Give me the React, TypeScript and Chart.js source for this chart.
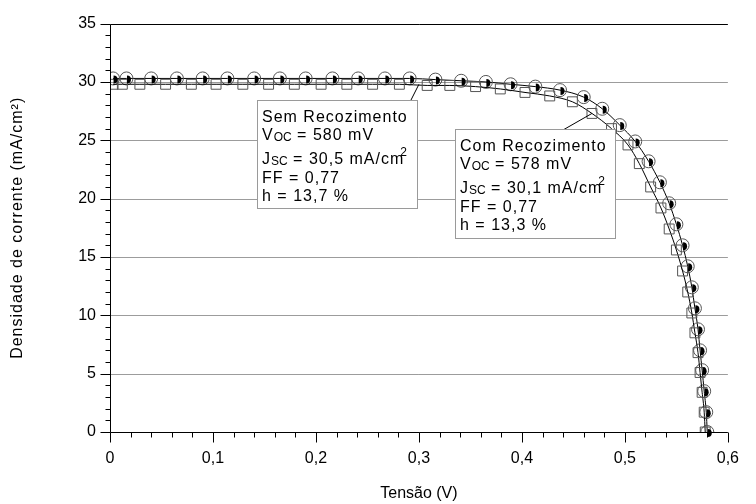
import React, { useEffect, useRef } from "react";
import { Chart, registerables } from "chart.js";

Chart.register(...registerables);

// ---- Data ----
const semV = [0.003, 0.016, 0.04, 0.065, 0.09, 0.114, 0.14, 0.165, 0.19, 0.216, 0.241, 0.267, 0.291, 0.316, 0.341, 0.365, 0.389, 0.413, 0.437, 0.46, 0.478, 0.495, 0.51, 0.523, 0.534, 0.543, 0.55, 0.556, 0.561, 0.565, 0.568, 0.571, 0.573, 0.575, 0.577, 0.579, 0.58];
const semJ = [30.3, 30.3, 30.3, 30.3, 30.3, 30.3, 30.3, 30.3, 30.3, 30.3, 30.3, 30.3, 30.3, 30.2, 30.1, 30.0, 29.8, 29.6, 29.3, 28.7, 27.7, 26.3, 24.9, 23.2, 21.4, 19.6, 17.8, 16.0, 14.2, 12.4, 10.6, 8.8, 7.0, 5.3, 3.5, 1.7, 0];

const comV = [0.003, 0.012, 0.029, 0.054, 0.079, 0.103, 0.129, 0.154, 0.179, 0.205, 0.23, 0.255, 0.281, 0.308, 0.33, 0.355, 0.379, 0.403, 0.427, 0.449, 0.468, 0.487, 0.503, 0.514, 0.525, 0.535, 0.543, 0.55, 0.556, 0.561, 0.565, 0.568, 0.571, 0.573, 0.575, 0.577, 0.578];
const comJ = [29.8, 29.8, 29.8, 29.8, 29.8, 29.8, 29.8, 29.8, 29.8, 29.8, 29.8, 29.8, 29.8, 29.7, 29.7, 29.6, 29.4, 29.1, 28.8, 28.3, 27.3, 26.0, 24.6, 23.0, 21.0, 19.2, 17.4, 15.6, 13.8, 12.0, 10.2, 8.5, 6.8, 5.1, 3.4, 1.7, 0];

const xTicks = [0, 0.1, 0.2, 0.3, 0.4, 0.5, 0.6];
const yTicks = [0, 5, 10, 15, 20, 25, 30, 35];

const xTitle = "Tensão (V)";
const yTitle = "Densidade de corrente (mA/cm²)";

const semLabel = ["Sem Recozimento", "580 mV", "30,5 mA/cm", "0,77", "13,7 %"];
const comLabel = ["Com Recozimento", "578 mV", "30,1 mA/cm", "0,77", "13,3 %"];

const FONT = "'Liberation Sans', Arial, sans-serif";

function drawBox(ctx: CanvasRenderingContext2D, bx: number, by: number, bw: number, bh: number, lines: string[]) {
  ctx.save();
  ctx.fillStyle = "#ffffff";
  ctx.strokeStyle = "#9a9a9a";
  ctx.lineWidth = 1;
  ctx.fillRect(bx, by, bw, bh);
  ctx.strokeRect(bx + 0.5, by + 0.5, bw, bh);
  ctx.fillStyle = "#000";
  ctx.textBaseline = "alphabetic";
  ctx.textAlign = "left";
  const big = "16px " + FONT;
  const small = "12px " + FONT;
  const tx = bx + 5;
  const base = [by + 22, by + 40, by + 64, by + 83, by + 101];
  (ctx as any).letterSpacing = "1px";
  ctx.font = big;
  ctx.fillText(lines[0], tx, base[0]);
  // Voc
  let x = tx;
  ctx.font = big; ctx.fillText("V", x, base[1]); x += ctx.measureText("V").width;
  (ctx as any).letterSpacing = "0px";
  ctx.font = small; ctx.fillText("OC", x, base[1] + 1); x += ctx.measureText("OC").width;
  (ctx as any).letterSpacing = "1px";
  ctx.font = big; ctx.fillText(" = " + lines[1], x, base[1]);
  // Jsc
  x = tx;
  ctx.font = big; ctx.fillText("J", x, base[2]); x += ctx.measureText("J").width;
  (ctx as any).letterSpacing = "0px";
  ctx.font = small; ctx.fillText("SC", x, base[2] + 1); x += ctx.measureText("SC").width;
  (ctx as any).letterSpacing = "1px";
  ctx.font = big; ctx.fillText(" = " + lines[2], x, base[2]); x += ctx.measureText(" = " + lines[2]).width;
  (ctx as any).letterSpacing = "0px";
  ctx.font = small; ctx.fillText("2", x - 4, base[2] - 8);
  (ctx as any).letterSpacing = "1px";
  ctx.font = big;
  ctx.fillText("FF = " + lines[3], tx, base[3]);
  ctx.fillText("h = " + lines[4], tx, base[4]);
  ctx.restore();
}

const decorPlugin = {
  id: "decor",
  beforeDatasetsDraw(chart: any) {
    const { ctx, chartArea, scales } = chart;
    const ys = scales.y;
    ctx.save();
    // horizontal grid
    ctx.strokeStyle = "#9c9c9c";
    ctx.lineWidth = 1;
    for (const v of yTicks) {
      if (v === 0 || v === 35) continue;
      const py = Math.round(ys.getPixelForValue(v)) + 0.5;
      ctx.beginPath(); ctx.moveTo(chartArea.left, py); ctx.lineTo(chartArea.right, py); ctx.stroke();
    }
    ctx.restore();
  },
  afterDatasetsDraw(chart: any) {
    const { ctx, chartArea, scales } = chart;
    const xs = scales.x, ys = scales.y;
    ctx.save();
    // black marks inside circles (right half discs)
    ctx.fillStyle = "#000";
    for (let i = 0; i < semV.length; i++) {
      const px = xs.getPixelForValue(semV[i]);
      const py = ys.getPixelForValue(semJ[i]);
      ctx.beginPath();
      ctx.arc(px + 0.5, py + 1, 4, -Math.PI / 2, Math.PI / 2);
      ctx.closePath();
      ctx.fill();
    }
    // axes
    ctx.strokeStyle = "#000";
    ctx.lineWidth = 1;
    const L = Math.round(chartArea.left) + 0.5;
    const B = Math.round(chartArea.bottom) + 0.5;
    const T = Math.round(chartArea.top) + 0.5;
    ctx.beginPath();
    ctx.moveTo(L, T); ctx.lineTo(L, B); ctx.lineTo(chartArea.right, B);
    ctx.moveTo(L, T); ctx.lineTo(chartArea.right, T);
    ctx.stroke();
    // y ticks (major every 5, minor every 1)
    for (let v = 0; v <= 35; v++) {
      const py = Math.round(ys.getPixelForValue(v)) + 0.5;
      const len = v % 5 === 0 ? 10 : 5;
      ctx.beginPath(); ctx.moveTo(L - len, py); ctx.lineTo(L, py); ctx.stroke();
    }
    // x ticks (major every 0.1, minor every 0.02)
    for (let k = 0; k <= 30; k++) {
      const v = k * 0.02;
      const px = Math.round(xs.getPixelForValue(v)) + 0.5;
      const len = k % 5 === 0 ? 10 : 5;
      ctx.beginPath(); ctx.moveTo(px, B); ctx.lineTo(px, B + len); ctx.stroke();
    }
    // pointer lines
    ctx.beginPath();
    ctx.moveTo(411, 100);
    ctx.lineTo(xs.getPixelForValue(0.3), ys.getPixelForValue(29.8));
    ctx.stroke();
    ctx.beginPath();
    ctx.moveTo(563, 130);
    ctx.lineTo(xs.getPixelForValue(0.468), ys.getPixelForValue(27.3));
    ctx.stroke();
    drawBox(ctx, 257, 100, 160, 108, semLabel);
    drawBox(ctx, 455, 129, 160, 109, comLabel);

    // axis titles
    ctx.fillStyle = "#000";
    ctx.font = "16px " + FONT;
    ctx.textAlign = "center";
    ctx.textBaseline = "middle";
    ctx.fillText(xTitle, (chartArea.left + chartArea.right) / 2, 494);
    ctx.save();
    (ctx as any).letterSpacing = "1px";
    ctx.translate(18, (chartArea.top + chartArea.bottom) / 2);
    ctx.rotate(-Math.PI / 2);
    ctx.fillText(yTitle, 0, 0);
    ctx.restore();
    ctx.restore();
  },
};

export default function App() {
  const ref = useRef<HTMLCanvasElement | null>(null);
  useEffect(() => {
    if (!ref.current) return;
    const chart = new Chart(ref.current, {
      type: "scatter",
      data: {
        datasets: [
          {
            label: "Com Recozimento",
            data: comV.map((v, i) => ({ x: v, y: comJ[i] })),
            showLine: true,
            cubicInterpolationMode: "monotone",
            borderColor: "#000",
            borderWidth: 1,
            pointStyle: "rect",
            pointRadius: 7,
            pointBorderColor: "#555",
            pointBackgroundColor: "rgba(255,255,255,0)",
            pointBorderWidth: 1,
          },
          {
            label: "Sem Recozimento",
            data: semV.map((v, i) => ({ x: v, y: semJ[i] })),
            showLine: true,
            cubicInterpolationMode: "monotone",
            borderColor: "#000",
            borderWidth: 1,
            pointStyle: "circle",
            pointRadius: 6.5,
            pointBorderColor: "#555",
            pointBackgroundColor: "rgba(255,255,255,0)",
            pointBorderWidth: 1,
          },
        ],
      },
      options: {
        animation: false,
        responsive: false,
        maintainAspectRatio: false,
        layout: { padding: { left: 0, right: 16, top: 21, bottom: 0 } },
        plugins: { legend: { display: false }, tooltip: { enabled: false } },
        scales: {
          x: {
            type: "linear",
            min: 0,
            max: 0.6,
            afterFit: (s: any) => { s.height = 72; },
            afterBuildTicks: (s: any) => { s.ticks = xTicks.map((v) => ({ value: v })); },
            grid: { display: false, drawTicks: false },
            border: { display: false },
            ticks: {
              padding: 17,
              color: "#000",
              font: { family: FONT, size: 16 },
              callback: (v: any) => (v === 0 ? "0" : Number(v).toFixed(1).replace(".", ",")),
            },
          },
          y: {
            type: "linear",
            min: 0,
            max: 35,
            afterFit: (s: any) => { s.width = 110; },
            afterBuildTicks: (s: any) => { s.ticks = yTicks.map((v) => ({ value: v })); },
            grid: { display: false, drawTicks: false },
            border: { display: false },
            ticks: {
              padding: 14,
              color: "#000",
              font: { family: FONT, size: 16 },
              callback: (v: any) => String(v),
            },
          },
        },
      },
      plugins: [decorPlugin],
    });
    return () => chart.destroy();
  }, []);
  return (
    <div style={{ position: "absolute", left: 0, top: 0, width: 756, height: 504, background: "#fff" }}>
      <canvas ref={ref} width={756} height={504} style={{ width: 756, height: 504 }} />
    </div>
  );
}
